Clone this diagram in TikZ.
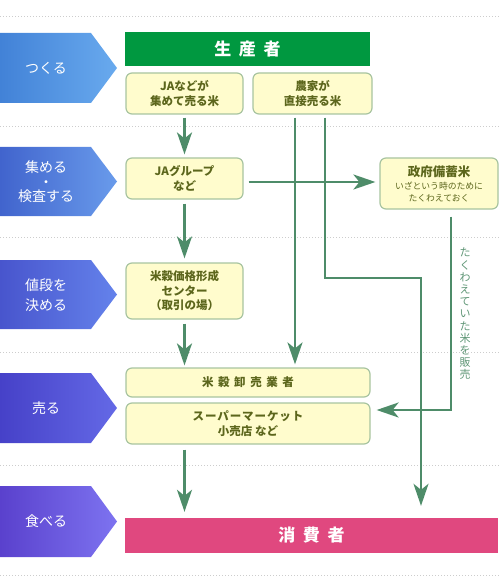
\documentclass[tikz,border=0pt]{standalone}
\usepackage{fontspec}
\setmainfont{Noto Sans CJK JP}
\usetikzlibrary{arrows.meta,positioning,calc}
\definecolor{flowgreen}{RGB}{78,140,105}
\definecolor{labelgreen}{RGB}{95,150,118}
\definecolor{boxfill}{RGB}{255,252,205}
\definecolor{boxline}{RGB}{168,196,160}
\definecolor{boxtext}{RGB}{92,102,28}
\definecolor{producergreen}{RGB}{0,152,64}
\definecolor{consumerpink}{RGB}{224,72,127}
\definecolor{sepgray}{RGB}{205,205,205}
\definecolor{stageAleft}{RGB}{66,130,215}
\definecolor{stageAright}{RGB}{105,170,238}
\definecolor{stageBleft}{RGB}{65,100,205}
\definecolor{stageBright}{RGB}{105,155,235}
\definecolor{stageCleft}{RGB}{72,85,205}
\definecolor{stageCright}{RGB}{100,130,235}
\definecolor{stageDleft}{RGB}{70,65,200}
\definecolor{stageDright}{RGB}{100,105,230}
\definecolor{stageEleft}{RGB}{90,65,205}
\definecolor{stageEright}{RGB}{125,115,240}
\tikzset{
    % Define standard node styles
    stagetext/.style={
        text=white, align=center, inner sep=0pt,
        font=\fontsize{14}{20}\selectfont
    },
    headbar/.style={
        rectangle, inner sep=0pt, text=white,
        font=\bfseries\fontsize{17}{20}\selectfont
    },
    ricebox/.style={
        rectangle, draw=boxline, line width=1.2pt, fill=boxfill,
        rounded corners=6pt, inner sep=0pt, align=center,
        text=boxtext, font=\bfseries\fontsize{11.5}{14.5}\selectfont
    },
    arrow/.style={
        -{Stealth[length=22pt,width=15pt,inset=6pt]}, line width=2.4pt,
        draw=flowgreen, shorten <=4pt, shorten >=4pt
    },
    sideline/.style={
        text=labelgreen, align=center, inner sep=0pt,
        font=\fontsize{11}{12.2}\selectfont
    },
    separator/.style={
        draw=sepgray, line width=1pt, dash pattern=on 1pt off 2pt
    }
}
\begin{document}
\begin{tikzpicture}[x=1pt, y=-1pt]
\useasboundingbox (0,0) rectangle (500,580);

% Separators
\draw[separator] (0,17) -- (500,17);
\draw[separator] (0,127) -- (500,127);
\draw[separator] (0,237) -- (500,237);
\draw[separator] (0,352) -- (500,352);
\draw[separator] (0,465) -- (500,465);
\draw[separator] (0,575) -- (500,575);

% Stages on the left
\path[left color=stageAleft, right color=stageAright] (0,33) -- (91,33) -- (117,68) -- (91,103) -- (0,103) -- cycle;
\node[stagetext] (make) at (46,68) {つくる};
\path[left color=stageBleft, right color=stageBright] (0,147) -- (91,147) -- (117,181.5) -- (91,216) -- (0,216) -- cycle;
\node[stagetext, font=\fontsize{14}{14.5}\selectfont] (collect) at (46,182) {集める\\・\\検査する};
\path[left color=stageCleft, right color=stageCright] (0,260) -- (91,260) -- (117,294.5) -- (91,329) -- (0,329) -- cycle;
\node[stagetext] (price) at (46,295) {値段を\\決める};
\path[left color=stageDleft, right color=stageDright] (0,373) -- (91,373) -- (117,408) -- (91,443) -- (0,443) -- cycle;
\node[stagetext] (sell) at (46,408) {売る};
\path[left color=stageEleft, right color=stageEright] (0,486) -- (91,486) -- (117,521.5) -- (91,557) -- (0,557) -- cycle;
\node[stagetext] (eat) at (46,521) {食べる};

% Rice flow
\node[headbar, fill=producergreen, minimum width=245pt, minimum height=34pt] (producer) at (247.5,49) {生\hspace{0.45em}産\hspace{0.45em}者};
\node[ricebox, minimum width=117pt, minimum height=41pt] (ja) at (184.5,93.5) {JAなどが\\集めて売る米};
\node[ricebox, minimum width=119pt, minimum height=41pt] (farmer) at (312.5,93.5) {農家が\\直接売る米};
\node[ricebox, minimum width=117pt, minimum height=41pt] (jagroup) at (184.5,178.5) {JAグループ\\など};
\node[ricebox, minimum width=118pt, minimum height=51pt] (gov) at (439,183.5) {{\fontsize{12.5}{14}\selectfont 政府備蓄米}\\[-1pt]{\mdseries\fontsize{8.8}{11}\selectfont いざという時のために}\\[-3pt]{\mdseries\fontsize{8.8}{11}\selectfont たくわえておく}};
\node[ricebox, minimum width=117pt, minimum height=56pt] (pricecenter) at (184.5,291) {米穀価格形成\\センター\\（取引の場）};
\node[ricebox, minimum width=244pt, minimum height=29pt] (wholesale) at (248,382.5) {\addfontfeature{LetterSpace=40}米穀卸売業者};
\node[ricebox, minimum width=244pt, minimum height=41pt] (super) at (248,423.5) {\addfontfeature{LetterSpace=8}スーパーマーケット\\小売店 など};
\node[headbar, fill=consumerpink, minimum width=373pt, minimum height=35pt] (consumer) at (311.5,535.5) {消\hspace{0.45em}費\hspace{0.45em}者};
\node[sideline] (stocknote) at (465,314) {た\\く\\わ\\え\\て\\い\\た\\米\\を\\販\\売};

% Arrows
\coordinate (turn) at (421,278);
\draw[arrow, shorten <=3pt, shorten >=3pt] (ja) -- (jagroup);
\draw[arrow, shorten <=5pt] ([yshift=-3.5pt]jagroup.east) -- ([yshift=-3.5pt]jagroup.east -| gov.west);
\draw[arrow] (jagroup) -- (pricecenter);
\draw[arrow, shorten >=2pt] (pricecenter) -- (wholesale.north -| pricecenter);
\draw[arrow, shorten <=3pt, shorten >=3pt] ([xshift=-17.5pt]farmer.south) -- ([xshift=-17.5pt]farmer.south |- wholesale.north);
\draw[arrow, shorten <=3pt, shorten >=12pt] ([xshift=12.5pt]farmer.south) |- (turn) -- (turn |- consumer.north);
\draw[arrow, shorten <=7pt, shorten >=6pt] ([xshift=12pt]gov.south) |- ([yshift=13.5pt]super.east);
\draw[arrow, shorten <=5pt, shorten >=6pt] (super.south -| pricecenter) -- (consumer.north -| pricecenter);

\end{tikzpicture}
\end{document}
